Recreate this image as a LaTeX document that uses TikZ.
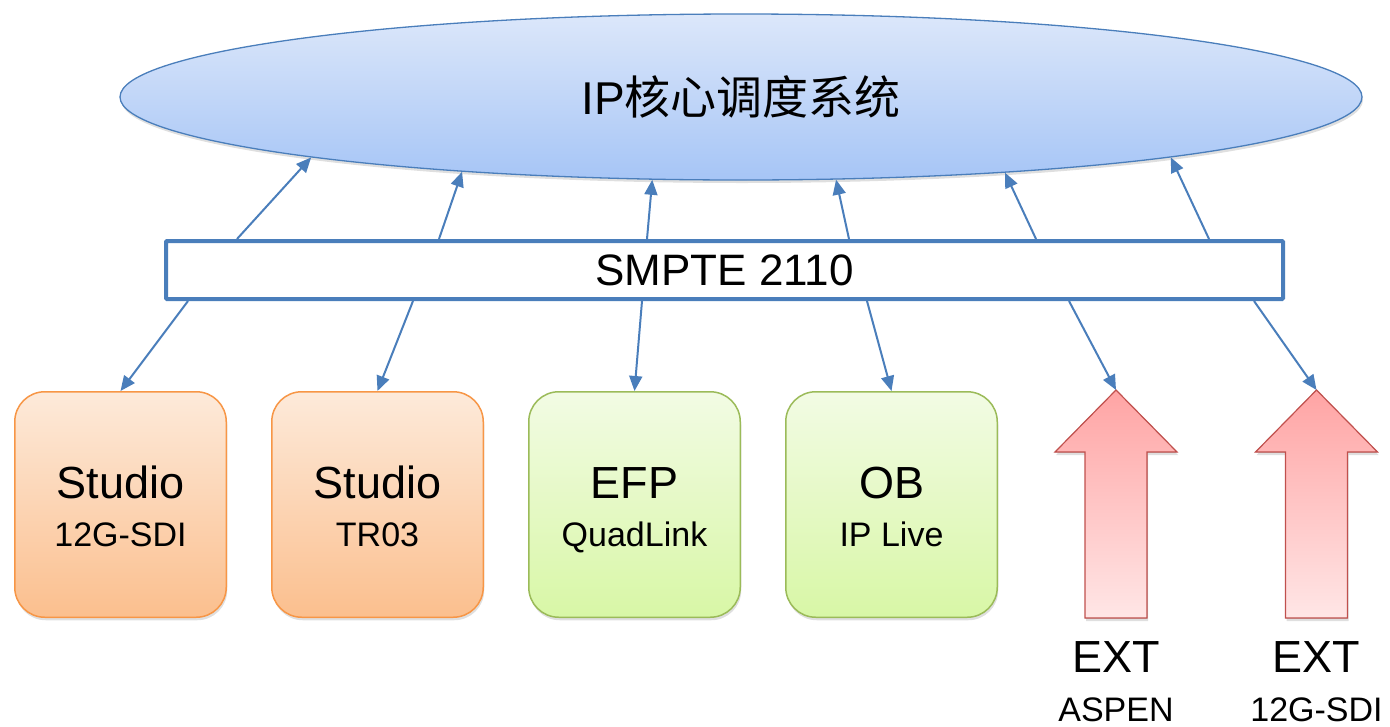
\documentclass[tikz,border=0pt]{standalone}
\usepackage{fontspec}
\setmainfont{Liberation Sans}
\newfontfamily\cjk{Noto Sans CJK SC}
\usetikzlibrary{positioning,shapes.geometric,arrows.meta,shadows}

\definecolor{linkblue}{RGB}{74,126,187}
\definecolor{coretop}{RGB}{220,231,250}
\definecolor{corebot}{RGB}{166,197,246}
\definecolor{studioline}{RGB}{247,150,70}
\definecolor{studiotop}{RGB}{253,234,218}
\definecolor{studiobot}{RGB}{251,191,142}
\definecolor{fieldline}{RGB}{155,187,89}
\definecolor{fieldtop}{RGB}{242,251,228}
\definecolor{fieldbot}{RGB}{216,247,166}
\definecolor{extline}{RGB}{192,80,77}
\definecolor{exttop}{RGB}{255,164,164}
\definecolor{extbot}{RGB}{255,230,230}

\newcommand\sitesub[1]{{\fontsize{34}{40}\selectfont #1\vphantom{Q}}}
\newcommand\sitetext[2]{\rule{0pt}{43pt}#1\\[2pt]\sitesub{#2}}

\tikzset{
  softshadow/.style={drop shadow={opacity=0.25,shadow xshift=1pt,shadow yshift=-3pt}},
  core/.style={ellipse, draw=linkblue, line width=1.3pt, top color=coretop, bottom color=corebot,
    minimum width=1242pt, minimum height=166pt, softshadow, font=\fontsize{46}{50}\selectfont},
  bus/.style={draw=linkblue, line width=4pt, fill=white, rounded corners=1pt,
    minimum width=1117pt, minimum height=58pt, font=\fontsize{44}{48}\selectfont},
  site/.style={rounded corners=30pt, line width=1.5pt, minimum width=211.5pt, minimum height=225.5pt,
    align=center, softshadow, font=\fontsize{45}{46}\selectfont},
  studio/.style={site, draw=studioline, top color=studiotop, bottom color=studiobot},
  field/.style={site, draw=fieldline, top color=fieldtop, bottom color=fieldbot},
  extarrow/.style={draw=extline, line width=1.2pt, top color=exttop, bottom color=extbot, softshadow},
  link/.style={draw=linkblue, line width=2pt, -{Triangle[length=15pt,width=13pt]}},
}

\begin{document}
\begin{tikzpicture}[x=1pt,y=-1pt]
\useasboundingbox (0,0) rectangle (1390,726);

% core system and bus
\node[core] (sys) at (741,97) {IP{\cjk 核心调度系统}};
\node[bus] (smpte) at (724.5,270) {SMPTE 2110};

% sites
\node[studio] (s1) at (120.5,504.5) {\sitetext{Studio}{12G-SDI}};
\node[studio, right=44pt of s1] (s2) {\sitetext{Studio}{TR03}};
\node[field, right=44pt of s2] (efp) {\sitetext{EFP}{QuadLink}};
\node[field, right=44pt of efp] (ob) {\sitetext{OB}{IP Live}};

% external feeds
\foreach \cx/\nm/\lbl in {1116/ea/ASPEN, 1316.5/eb/12G-SDI} {
  \filldraw[extarrow] (\cx,390) -- (\cx+61,452) -- (\cx+31,452) -- (\cx+31,618)
    -- (\cx-31,618) -- (\cx-31,452) -- (\cx-61,452) -- cycle;
  \coordinate (\nm) at (\cx,390);
  \node[align=center, anchor=north, font=\fontsize{45}{46}\selectfont] (\nm lbl) at (\cx,638) {EXT\\[3pt]\sitesub{\lbl}};
}

% links
\foreach \bx/\ang in {237/188, 439/195, 647/223, 849/319, 1036/344, 1209/352}
  \draw[link] (smpte.north -| \bx,0) -- (sys.\ang);
\foreach \bx/\dst in {188/s1.north, 413/s2.north, 642/efp.north, 867/ob.north, 1069/ea, 1254/eb}
  \draw[link] (smpte.south -| \bx,0) -- (\dst);

\end{tikzpicture}
\end{document}
